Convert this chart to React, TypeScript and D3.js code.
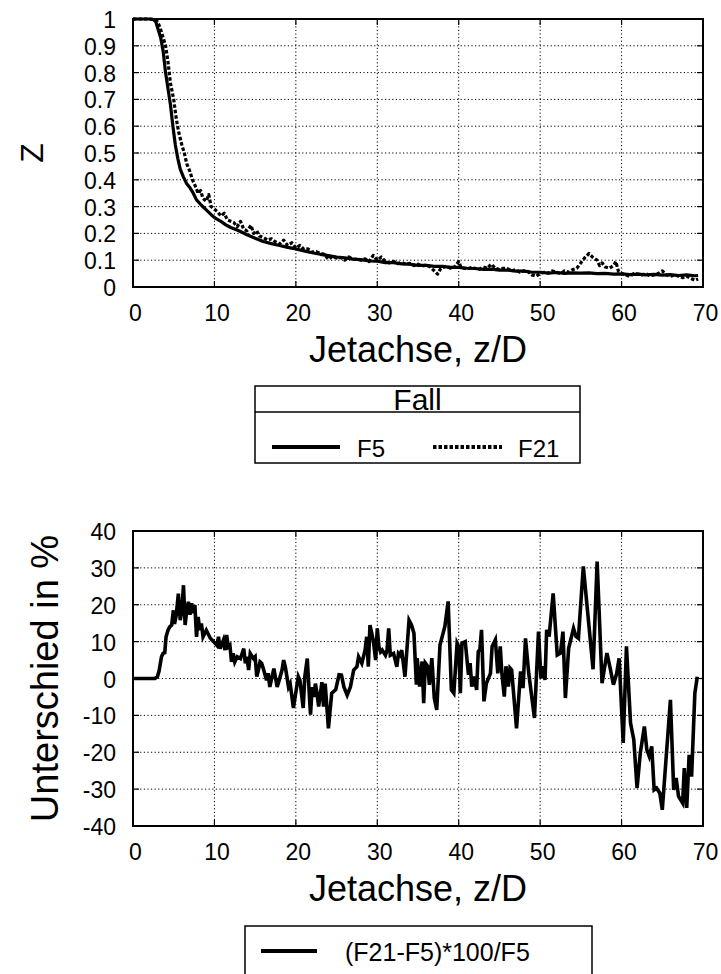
import React from "react";
import * as d3 from "d3";

// ---------- data ----------
const xTicks = [0, 10, 20, 30, 40, 50, 60, 70];
const zTicks = [0, 0.1, 0.2, 0.3, 0.4, 0.5, 0.6, 0.7, 0.8, 0.9, 1];
const diffTicks = [-40, -30, -20, -10, 0, 10, 20, 30, 40];

const seriesNames = ["F5", "F21"];
const legendTitle = "Fall";
const diffName = "(F21-F5)*100/F5";
const xLabel = "Jetachse, z/D";
const zLabel = "Z";
const diffLabel = "Unterschied in %";

const f5Data: [number, number][] = [
  [0, 1], [1, 1], [2, 1], [2.5, 0.998], [2.8, 0.99], [3.1, 0.96], [3.4, 0.93], [3.7, 0.88],
  [4.0, 0.8], [4.3, 0.74], [4.6, 0.68], [4.9, 0.6], [5.2, 0.53], [5.5, 0.48], [5.8, 0.44],
  [6.2, 0.41], [6.6, 0.385], [7.0, 0.37], [7.4, 0.35], [7.8, 0.325], [8.4, 0.305], [9.0, 0.288],
  [9.6, 0.27], [10.2, 0.255], [10.8, 0.245], [11.4, 0.232], [12, 0.222], [13, 0.21], [14, 0.195],
  [15, 0.182], [16, 0.17], [17, 0.162], [18, 0.155], [19, 0.148], [20, 0.142], [21, 0.135],
  [22, 0.128], [23, 0.122], [24, 0.117], [25, 0.112], [26, 0.109], [27, 0.104], [28, 0.102],
  [29, 0.097], [30, 0.096], [31, 0.091], [32, 0.091], [33, 0.086], [34, 0.085], [35, 0.081],
  [36, 0.081], [37, 0.077], [38, 0.077], [39, 0.073], [40, 0.073], [41, 0.07], [42, 0.069],
  [43, 0.066], [44, 0.067], [45, 0.063], [46, 0.063], [47, 0.059], [48, 0.059], [49, 0.055],
  [50, 0.055], [51, 0.052], [52, 0.054], [53, 0.051], [54, 0.053], [55, 0.052], [56, 0.053],
  [57, 0.05], [58, 0.051], [59, 0.048], [60, 0.049], [61, 0.046], [62, 0.048], [63, 0.045],
  [64, 0.047], [65, 0.044], [66, 0.046], [67, 0.043], [68, 0.045], [69, 0.042], [69.4, 0.043],
];

const f21Data: [number, number][] = [
  [0, 1], [2, 1], [2.7, 0.998], [3.0, 0.99], [3.3, 0.97], [3.6, 0.94], [4.0, 0.9], [4.3, 0.84],
  [4.6, 0.76], [5.0, 0.7], [5.3, 0.63], [5.6, 0.58], [6.0, 0.53], [6.3, 0.5], [6.6, 0.46],
  [7.0, 0.43], [7.3, 0.4], [7.6, 0.38], [8.0, 0.35], [8.3, 0.36], [8.6, 0.33], [9.0, 0.32],
  [9.3, 0.345], [9.6, 0.3], [10.0, 0.29], [10.4, 0.28], [10.8, 0.265], [11.2, 0.275], [11.6, 0.25],
  [12, 0.245], [12.4, 0.24], [12.8, 0.225], [13.2, 0.245], [13.6, 0.215], [14, 0.21], [14.5, 0.23],
  [14.8, 0.2], [15.2, 0.21], [15.5, 0.19], [16, 0.185], [16.5, 0.175], [17, 0.18], [17.5, 0.168],
  [18, 0.16], [18.5, 0.175], [19, 0.155], [19.5, 0.165], [20, 0.145], [20.5, 0.155], [21, 0.14],
  [21.5, 0.142], [22, 0.13], [22.5, 0.132], [23, 0.125], [23.5, 0.122], [24, 0.103], [24.5, 0.115],
  [25, 0.108], [25.5, 0.11], [26, 0.1], [26.5, 0.112], [27, 0.103], [27.5, 0.104], [28, 0.1],
  [28.5, 0.105], [29, 0.095], [29.5, 0.118], [30, 0.1], [30.5, 0.112], [31, 0.095], [31.5, 0.09],
  [32, 0.096], [32.5, 0.087], [33, 0.092], [33.5, 0.084], [34, 0.088], [34.5, 0.08], [35, 0.085],
  [35.5, 0.078], [36, 0.082], [36.5, 0.075], [37, 0.06], [37.4, 0.048], [37.8, 0.07], [38.5, 0.078],
  [39, 0.07], [39.5, 0.075], [40, 0.095], [40.3, 0.072], [41, 0.068], [41.5, 0.072], [42, 0.07],
  [42.5, 0.066], [43, 0.075], [43.5, 0.07], [44, 0.085], [44.5, 0.07], [45, 0.065], [45.5, 0.07],
  [46, 0.068], [46.5, 0.06], [47, 0.065], [47.5, 0.055], [48, 0.06], [48.5, 0.058], [49, 0.045],
  [49.5, 0.04], [50, 0.05], [50.5, 0.055], [51, 0.052], [51.5, 0.06], [52, 0.055], [52.5, 0.05],
  [53, 0.06], [53.5, 0.055], [54, 0.065], [54.5, 0.07], [55, 0.09], [55.5, 0.11], [56, 0.125],
  [56.5, 0.11], [57, 0.1], [57.3, 0.08], [57.6, 0.09], [58, 0.075], [58.5, 0.07], [59, 0.08],
  [59.3, 0.095], [59.6, 0.06], [60, 0.05], [60.5, 0.045], [61, 0.04], [61.5, 0.05], [62, 0.048],
  [62.5, 0.045], [63, 0.05], [63.5, 0.042], [64, 0.045], [64.5, 0.05], [65, 0.06], [65.5, 0.045],
  [66, 0.04], [66.5, 0.045], [67, 0.04], [67.5, 0.035], [68, 0.04], [68.5, 0.032], [69, 0.025],
  [69.4, 0.03],
];

const diffData: [number, number][] = [
  [0, 0], [2.7, 0], [3.0, 0.5], [3.2, 2], [3.5, 5.9], [3.7, 6.8], [3.9, 7], [4.06, 11.3], [4.3, 13.1],
  [4.5, 14], [4.75, 14.5], [4.96, 18.5], [5.1, 14.8], [5.3, 17], [5.57, 23], [5.8, 15.8], [6.0, 18.5],
  [6.2, 25.3], [6.4, 14.5], [6.6, 18.5], [6.8, 20.8], [7.0, 17.3], [7.2, 20.4], [7.4, 17.7], [7.6, 19.9],
  [7.8, 11.3], [8.0, 16.7], [8.2, 13.1], [8.4, 14.9], [8.6, 11.3], [9.0, 13.1], [9.5, 10.9], [9.9, 10],
  [10.3, 9], [10.5, 11.3], [10.7, 8.1], [11.1, 10.4], [11.3, 7.7], [11.5, 11.8], [11.7, 8.6], [11.9, 9],
  [12.1, 4.5], [12.3, 6.8], [12.5, 4.5], [12.8, 5.9], [13.2, 5.4], [13.6, 8.1], [13.8, 4.1], [14.0, 5.9],
  [14.2, 2.3], [14.4, 6.8], [14.8, 5.4], [15.0, 5.9], [15.2, 0.5], [15.4, 2.3], [15.6, 4.5], [15.8, 4.1],
  [16.0, 2.7], [16.4, -0.5], [16.6, 1.4], [16.8, -2.3], [17.3, 2.7], [17.7, -2.3], [17.9, -0.9],
  [18.3, 2.3], [18.5, 5], [18.7, 3.2], [18.9, 0.5], [19.1, -2.3], [19.3, -1.4], [19.7, -8], [20.1, -2.3],
  [20.3, 0.5], [20.5, -0.5], [20.9, -8], [21.1, 0.5], [21.4, 5.4], [21.6, -2.3], [21.8, -9.8], [22.0, -2.3],
  [22.2, -5], [22.4, -1.4], [22.6, -4.1], [22.8, -7.6], [23.2, -1], [23.4, -7.6], [23.6, -1.4],
  [24.0, -13.5], [24.4, -4], [24.9, -3], [25.3, 1], [25.6, 0.9], [25.9, -2.3], [26.3, -4.5], [26.7, -2.3],
  [27.1, 2.3], [27.5, 3.2], [27.7, 5.9], [28.1, 4.1], [28.5, 7.7], [28.7, 11.3], [28.9, 3.2], [29.1, 14.5],
  [29.5, 10.4], [29.8, 5], [30.0, 13.6], [30.2, 8.6], [30.4, 7.2], [30.6, 7.7], [31.0, 6.3], [31.2, 7.7],
  [31.4, 13.6], [31.6, 6.3], [32.0, 6.8], [32.4, 3.2], [32.6, 6.8], [32.8, 6.3], [33.0, 7.7], [33.4, 0.5],
  [33.9, 15.8], [34.2, 14.5], [34.5, 12.3], [34.8, -1.7], [34.9, 5.5], [35.2, -2.2], [35.5, 4.6],
  [35.7, -6.7], [35.9, 4.2], [36.2, 3.3], [36.4, -1.7], [36.7, 5.5], [37.0, -5.3], [37.3, -8.5],
  [37.7, 9.1], [38.3, 14.1], [38.7, 20.9], [38.9, 9.1], [39.1, -3.1], [39.4, -4], [39.8, 9.6], [40.0, 8.7],
  [40.2, -4], [40.4, 9.6], [40.8, 10], [41.2, 1], [41.4, 4.2], [41.6, -2.2], [41.9, 0.5], [42.2, -3.1],
  [42.4, 7.3], [42.6, 7.8], [42.8, 13.2], [43.1, -6.2], [43.4, -1.3], [43.9, 1.4], [44.1, 8.7],
  [44.5, 10.5], [44.8, 1.4], [45.1, 8.7], [45.3, 1.4], [45.6, -4.9], [45.8, 3.3], [46.1, -2.2],
  [46.3, 2.8], [46.5, 2.3], [47.1, -13.5], [47.6, 1.9], [47.9, -2.6], [48.2, 10.9], [48.6, 1.4],
  [49.3, -10.7], [49.8, 12.7], [50.1, 0], [50.4, 3.3], [50.6, -0.4], [50.8, 13.2], [51.1, 11.4],
  [51.6, 23.1], [52.1, 6.4], [52.5, 6.9], [52.8, 12.7], [53.1, -5.3], [53.5, 8.2], [54.1, 13.6],
  [54.4, 11.4], [54.7, 10.9], [55.3, 30.4], [56.5, 2.5], [57.0, 31.7], [57.6, -1.3], [58.2, 6.9],
  [58.6, 2.8], [59.0, -1.7], [59.4, 1.4], [59.7, 5.5], [60.2, -17.5], [60.6, 8.7], [61.1, -12.1],
  [61.5, -16.6], [61.9, -29.7], [62.3, -20.2], [62.8, -13], [63.1, -19.3], [63.4, -21.1], [63.7, -18.4],
  [64.0, -30.2], [64.3, -29.7], [64.7, -31.1], [65.0, -35.6], [66.0, -5.8], [66.4, -30.2], [66.7, -27],
  [67.0, -32], [67.5, -33.8], [67.7, -24.3], [68.0, -35.1], [68.3, -20.7], [68.6, -26.6], [69.0, -4],
  [69.3, 0.5],
];

// ---------- layout ----------
const W = 721;
const H = 974;
const FONT = "'Liberation Sans', Arial, Helvetica, sans-serif";
const left = 133;
const right = 703;
const top1 = { top: 19, bottom: 287 };
const top2 = { top: 531, bottom: 826 };

const x = d3.scaleLinear().domain([0, 70]).range([left, right]);
const y1 = d3.scaleLinear().domain([0, 1]).range([top1.bottom, top1.top]);
const y2 = d3.scaleLinear().domain([-40, 40]).range([top2.bottom, top2.top]);

function Frame({ y, yTicks, fmt, box, label, labelX, labelSize }: any) {
  const tickLen = 6;
  return (
    <g>
      {xTicks.slice(1, -1).map((t) => (
        <line key={"gx" + t} x1={x(t)} x2={x(t)} y1={box.top} y2={box.bottom}
          stroke="#000" strokeWidth={1} strokeDasharray="1.2,2.4" />
      ))}
      {yTicks.slice(1, -1).map((t: number) => (
        <line key={"gy" + t} x1={left} x2={right} y1={y(t)} y2={y(t)}
          stroke="#000" strokeWidth={1} strokeDasharray="1.2,2.4" />
      ))}
      {xTicks.map((t) => (
        <g key={"tx" + t}>
          <line x1={x(t)} x2={x(t)} y1={box.bottom} y2={box.bottom - tickLen} stroke="#000" strokeWidth={1.2} />
          <line x1={x(t)} x2={x(t)} y1={box.top} y2={box.top + tickLen} stroke="#000" strokeWidth={1.2} />
          <text x={x(t) + 2.5} y={box.bottom + 26} textAnchor="middle" dominantBaseline="central"
            fontSize={23} fontFamily={FONT}>{t}</text>
        </g>
      ))}
      {yTicks.map((t: number) => (
        <g key={"ty" + t}>
          <line x1={left} x2={left + tickLen} y1={y(t)} y2={y(t)} stroke="#000" strokeWidth={1.2} />
          <line x1={right} x2={right - tickLen} y1={y(t)} y2={y(t)} stroke="#000" strokeWidth={1.2} />
          <text x={116} y={y(t) + 1} textAnchor="end" dominantBaseline="central"
            fontSize={23} fontFamily={FONT}>{fmt(t)}</text>
        </g>
      ))}
      <rect x={left} y={box.top} width={right - left} height={box.bottom - box.top}
        fill="none" stroke="#000" strokeWidth={2} />
      <text x={(left + right) / 2} y={box.bottom + 75} textAnchor="middle" fontSize={36} fontFamily={FONT}>
        {xLabel}
      </text>
      <text transform={`translate(${labelX},${(box.top + box.bottom) / 2}) rotate(-90)`}
        textAnchor="middle" fontSize={labelSize} fontFamily={FONT}>{label}</text>
    </g>
  );
}

export default function App() {
  const line1 = d3.line<[number, number]>().x((d) => x(d[0])).y((d) => y1(d[1]));
  const line2 = d3.line<[number, number]>().x((d) => x(d[0])).y((d) => y2(d[1]));

  const lg1 = { x: 255, y: 386, w: 325, h: 77, sep: 412 };
  const lg2 = { x: 245, y: 926, w: 347, h: 60 };

  return (
    <svg width={W} height={H} style={{ position: "absolute", left: 0, top: 0, background: "#fff" }}>
      <rect width={W} height={H} fill="#fff" />
      <Frame y={y1} yTicks={zTicks} fmt={(t: number) => String(+t.toFixed(1))} box={top1}
        label={zLabel} labelX={43} labelSize={32} />
      <path d={line1(f21Data) || ""} fill="none" stroke="#000" strokeWidth={3.2}
        strokeDasharray="3.5,2" strokeLinejoin="round" />
      <path d={line1(f5Data) || ""} fill="none" stroke="#000" strokeWidth={3.2} strokeLinejoin="round" />

      <rect x={lg1.x} y={lg1.y} width={lg1.w} height={lg1.h} fill="#fff" stroke="#000" strokeWidth={1.5} />
      <line x1={lg1.x} x2={lg1.x + lg1.w} y1={lg1.sep} y2={lg1.sep} stroke="#000" strokeWidth={1.5} />
      <text x={lg1.x + lg1.w / 2} y={lg1.sep - 2} textAnchor="middle" fontSize={30} fontFamily={FONT}>
        {legendTitle}
      </text>
      <line x1={272} x2={340} y1={447} y2={447} stroke="#000" strokeWidth={4} />
      <text x={357} y={448} dominantBaseline="central" fontSize={24} fontFamily={FONT}>{seriesNames[0]}</text>
      <line x1={433} x2={502} y1={447} y2={447} stroke="#000" strokeWidth={4} strokeDasharray="3.5,2" />
      <text x={518} y={448} dominantBaseline="central" fontSize={24} fontFamily={FONT}>{seriesNames[1]}</text>

      <Frame y={y2} yTicks={diffTicks} fmt={(t: number) => String(t)} box={top2}
        label={diffLabel} labelX={58} labelSize={38} />
      <path d={line2(diffData) || ""} fill="none" stroke="#000" strokeWidth={3.6} strokeLinejoin="miter" />

      <rect x={lg2.x} y={lg2.y} width={lg2.w} height={lg2.h} fill="#fff" stroke="#000" strokeWidth={1.5} />
      <line x1={261} x2={317} y1={951} y2={951} stroke="#000" strokeWidth={4} />
      <text x={345} y={952} dominantBaseline="central" fontSize={25} fontFamily={FONT}>{diffName}</text>
    </svg>
  );
}
